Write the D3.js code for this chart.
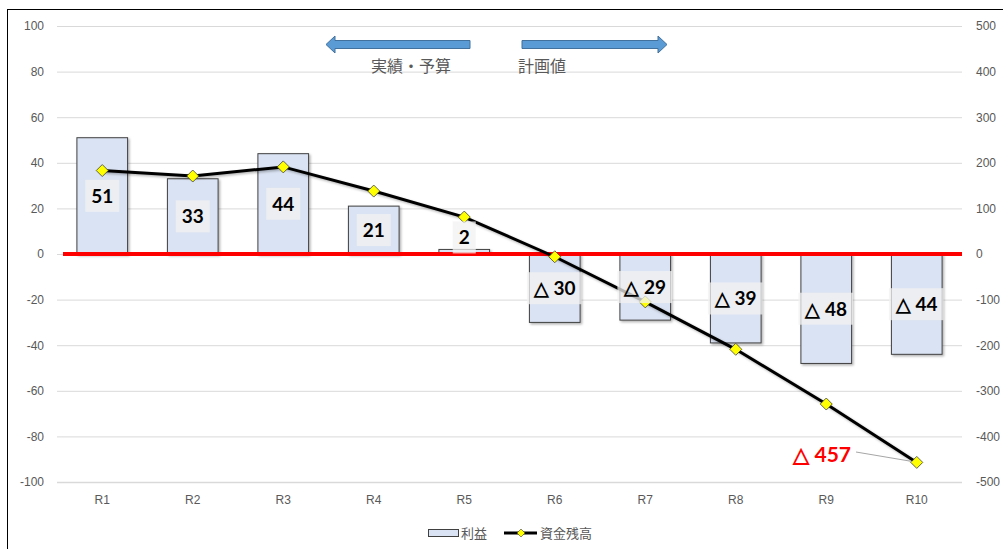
<!DOCTYPE html>
<html>
<head>
<meta charset="utf-8">
<script src="https://cdn.jsdelivr.net/npm/d3@7"></script>
<style>
  body { margin: 0; background: #fff; }
  svg { font-family: "Noto Sans CJK JP", "Lato", sans-serif; }
</style>
</head>
<body>
<div id="chart-area"></div>
<script>
// values
const categories = ["R1", "R2", "R3", "R4", "R5", "R6", "R7", "R8", "R9", "R10"];
const profit = [51, 33, 44, 21, 2, -30, -29, -39, -48, -44];
const balance = [183, 171, 191, 138, 81, -6, -105, -209, -329, -457];
const leftTicks = [100, 80, 60, 40, 20, 0, -20, -40, -60, -80, -100];
const rightTicks = [500, 400, 300, 200, 100, 0, -100, -200, -300, -400, -500];

const width = 1003, height = 549;
const plot = { left: 57, right: 962, top: 26, bottom: 482 };

const svg = d3.select("#chart-area").append("svg")
    .attr("width", width).attr("height", height);

const defs = svg.append("defs");
const shadow = defs.append("filter").attr("id", "shadow")
    .attr("x", "-20%").attr("y", "-20%").attr("width", "150%").attr("height", "150%");
shadow.append("feDropShadow").attr("dx", 1.5).attr("dy", 1.5)
    .attr("stdDeviation", 1).attr("flood-color", "#000").attr("flood-opacity", 0.3);

// frame
svg.append("rect").attr("x", 7.5).attr("y", 9.5).attr("width", 1000).attr("height", 545)
    .attr("fill", "none").attr("stroke", "#000").attr("stroke-width", 1);

const x = d3.scaleBand().domain(categories).range([plot.left, plot.right])
    .paddingInner(0.44).paddingOuter(0.22);
const y = d3.scaleLinear().domain([-100, 100]).range([plot.bottom, plot.top]);
const y2 = d3.scaleLinear().domain([-500, 500]).range([plot.bottom, plot.top]);

// gridlines
svg.append("g").selectAll("line").data(leftTicks).join("line")
    .attr("x1", plot.left).attr("x2", plot.right)
    .attr("y1", d => y(d) + 0.5).attr("y2", d => y(d) + 0.5)
    .attr("stroke", "#d9d9d9").attr("stroke-width", d => d === -100 ? 1.5 : 1);

const plainNum = d => String(d);

// left axis
const yAxis = svg.append("g").attr("transform", `translate(${plot.left},0)`)
    .call(d3.axisLeft(y).tickValues(leftTicks).tickFormat(plainNum).tickSize(0).tickPadding(13));
yAxis.select(".domain").remove();
yAxis.selectAll("text").attr("fill", "#595959").attr("font-size", 12)
    .attr("font-family", "Liberation Sans, sans-serif");

// right axis
const y2Axis = svg.append("g").attr("transform", `translate(${plot.right},0)`)
    .call(d3.axisRight(y2).tickValues(rightTicks).tickFormat(plainNum).tickSize(0).tickPadding(14));
y2Axis.select(".domain").remove();
y2Axis.selectAll("text").attr("fill", "#595959").attr("font-size", 12)
    .attr("font-family", "Liberation Sans, sans-serif");

// x axis labels
const xAxis = svg.append("g").attr("transform", `translate(0,${plot.bottom})`)
    .call(d3.axisBottom(x).tickSize(0).tickPadding(13));
xAxis.select(".domain").remove();
xAxis.selectAll("text").attr("fill", "#595959").attr("font-size", 12)
    .attr("font-family", "Liberation Sans Narrow, Liberation Sans, sans-serif");

// bars
svg.append("g").selectAll("rect").data(profit).join("rect")
    .attr("x", (d, i) => x(categories[i]))
    .attr("y", d => y(Math.max(0, d)))
    .attr("width", x.bandwidth())
    .attr("height", d => Math.abs(y(d) - y(0)))
    .attr("fill", "#dae3f3").attr("stroke", "#404040").attr("stroke-width", 1)
    .attr("filter", "url(#shadow)");

// zero line
svg.append("line").attr("x1", 63).attr("x2", plot.right)
    .attr("y1", y(0)).attr("y2", y(0))
    .attr("stroke", "#ff0000").attr("stroke-width", 4);

// line series
const line = d3.line()
    .x((d, i) => x(categories[i]) + x.bandwidth() / 2)
    .y(d => y2(d));
svg.append("path").datum(balance).attr("d", line)
    .attr("fill", "none").attr("stroke", "#000").attr("stroke-width", 3)
    .attr("filter", "url(#shadow)");

svg.append("g").selectAll("path").data(balance).join("path")
    .attr("d", "M0,-6L6,0L0,6L-6,0Z")
    .attr("transform", (d, i) => `translate(${x(categories[i]) + x.bandwidth() / 2},${y2(d)})`)
    .attr("fill", "#ffff00").attr("stroke", "#404040").attr("stroke-width", 0.8);

// bar labels
const labels = svg.append("g");
profit.forEach((d, i) => {
    const cx = x(categories[i]) + x.bandwidth() / 2;
    const h = Math.abs(y(d) - y(0));
    let cy = (y(d) + y(0)) / 2;
    if (h < 26) cy = y(Math.max(0, d)) - 12;
    const txt = d < 0 ? "△ " + Math.abs(d) : String(d);
    const g = labels.append("g");
    const bg = g.append("rect");
    const t = g.append("text").attr("x", cx).attr("y", cy).attr("dy", "0.36em")
        .attr("text-anchor", "middle").attr("font-size", 19).attr("font-weight", "bold")
        .attr("font-family", "Lato, sans-serif").attr("fill", "#000").text(txt);
    const b = t.node().getBBox();
    bg.attr("x", b.x - 6).attr("y", cy - 16).attr("width", b.width + 12).attr("height", 32)
        .attr("fill", "#f2f2f2").attr("opacity", 0.75);
});

// annotation for last balance
const last = balance.length - 1;
const lx = x(categories[last]) + x.bandwidth() / 2;
svg.append("line").attr("x1", 856).attr("y1", 452).attr("x2", lx - 5).attr("y2", y2(balance[last]) - 1)
    .attr("stroke", "#a6a6a6").attr("stroke-width", 1);
svg.append("text").attr("x", 851).attr("y", 462).attr("text-anchor", "end")
    .attr("font-size", 21).attr("font-weight", "bold").attr("font-family", "Lato, sans-serif")
    .attr("fill", "#ff0000").text("△ " + Math.abs(balance[last]));

// arrows
function arrow(x0, x1, yc) {
    const dir = x1 > x0 ? 1 : -1;
    const headLen = 9, shaft = 4, head = 8.5;
    const xb = x1 - dir * headLen;
    return `M${x0},${yc - shaft}L${xb},${yc - shaft}L${xb},${yc - head}L${x1},${yc}` +
        `L${xb},${yc + head}L${xb},${yc + shaft}L${x0},${yc + shaft}Z`;
}
svg.append("path").attr("d", arrow(470, 326, 44.5))
    .attr("fill", "#5b9bd5").attr("stroke", "#41719c").attr("stroke-width", 1);
svg.append("path").attr("d", arrow(522, 667, 44.5))
    .attr("fill", "#5b9bd5").attr("stroke", "#41719c").attr("stroke-width", 1);
svg.append("text").attr("x", 411).attr("y", 72).attr("text-anchor", "middle")
    .attr("font-size", 16).attr("fill", "#595959").text("実績・予算");
svg.append("text").attr("x", 518).attr("y", 72)
    .attr("font-size", 16).attr("fill", "#595959").text("計画値");

// legend
const legend = svg.append("g");
legend.append("rect").attr("x", 428.5).attr("y", 529.5).attr("width", 30).attr("height", 7)
    .attr("fill", "#dae3f3").attr("stroke", "#404040");
legend.append("text").attr("x", 461).attr("y", 538).attr("font-size", 13)
    .attr("fill", "#595959").text("利益");
legend.append("line").attr("x1", 504).attr("x2", 537).attr("y1", 533).attr("y2", 533)
    .attr("stroke", "#000").attr("stroke-width", 3);
legend.append("path").attr("d", "M0,-4L4,0L0,4L-4,0Z").attr("transform", "translate(521,533)")
    .attr("fill", "#ffff00").attr("stroke", "#404040").attr("stroke-width", 0.6);
legend.append("text").attr("x", 540).attr("y", 538).attr("font-size", 13)
    .attr("fill", "#595959").text("資金残高");
</script>
</body>
</html>
